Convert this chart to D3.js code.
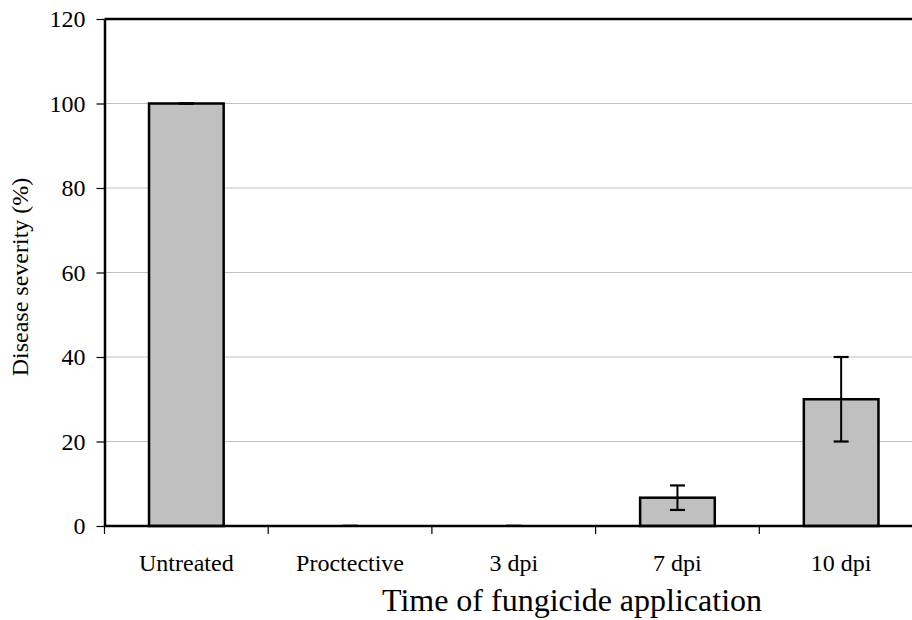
<!DOCTYPE html>
<html>
<head>
<meta charset="utf-8">
<script src="https://cdn.jsdelivr.net/npm/d3@7"></script>
<style>
  body { margin: 0; background: #fff; }
  svg { display: block; font-family: "Liberation Serif", "Times New Roman", serif; }
</style>
</head>
<body>
<div id="chart"></div>
<script>
// data
const categories = ["Untreated", "Proctective", "3 dpi", "7 dpi", "10 dpi"];
const severity = [100, 0, 0, 6.7, 30];
const errors = [0, 0, 0, 2.9, 10];
const yTicks = [0, 20, 40, 60, 80, 100, 120];

const W = 912, H = 620;
// plot box; right edge runs past the picture and gets clipped
const plot = { left: 104.5, top: 19, bottom: 526, right: 923 };

const svg = d3.select("#chart")
  .append("svg")
    .attr("width", W)
    .attr("height", H)
    .style("overflow", "hidden");

const x = d3.scaleBand()
  .domain(categories)
  .range([plot.left, plot.right])
  .paddingInner(0.544)
  .paddingOuter(0.272);

const y = d3.scaleLinear()
  .domain([0, 120])
  .range([plot.bottom, plot.top]);

// gridlines
svg.append("g")
  .selectAll("line")
  .data(yTicks.filter(d => d > 0 && d < 120))
  .join("line")
    .attr("x1", plot.left)
    .attr("x2", plot.right)
    .attr("y1", d => y(d))
    .attr("y2", d => y(d))
    .attr("stroke", "#c0c0c0")
    .attr("stroke-width", 1);

// plot area frame (top + right)
svg.append("path")
  .attr("d", `M${plot.left},${plot.top}H${plot.right}V${plot.bottom}`)
  .attr("fill", "none")
  .attr("stroke", "#000")
  .attr("stroke-width", 2.5);

// bars
svg.append("g")
  .selectAll("rect")
  .data(categories)
  .join("rect")
    .attr("x", d => x(d))
    .attr("y", (d, i) => y(severity[i]))
    .attr("width", x.bandwidth())
    .attr("height", (d, i) => y(0) - y(severity[i]))
    .attr("fill", "#c0c0c0")
    .attr("stroke", (d, i) => severity[i] > 0 ? "#000" : "none")
    .attr("stroke-width", 2.5);

// y axis
const yAxis = svg.append("g")
  .attr("transform", `translate(${plot.left},0)`)
  .call(d3.axisLeft(y).tickValues(yTicks).tickSize(8).tickPadding(11).tickSizeOuter(0));
yAxis.select(".domain").attr("stroke-width", 2.5);
yAxis.selectAll(".tick line").attr("stroke-width", 1.2);
yAxis.selectAll("text")
  .attr("font-size", 24)
  .attr("font-family", "Liberation Serif")
  .attr("fill", "#000");

// x axis: ticks at category boundaries
const xAxisG = svg.append("g");
xAxisG.append("line")
  .attr("x1", plot.left).attr("x2", plot.right)
  .attr("y1", plot.bottom).attr("y2", plot.bottom)
  .attr("stroke", "#000")
  .attr("stroke-width", 2.5);

const step = x.step();
xAxisG.selectAll(".bound")
  .data(categories)
  .join("line")
    .attr("class", "bound")
    .attr("x1", d => x(d) - x.paddingInner() * step / 2)
    .attr("x2", d => x(d) - x.paddingInner() * step / 2)
    .attr("y1", plot.bottom)
    .attr("y2", plot.bottom + 8)
    .attr("stroke", "#000")
    .attr("stroke-width", 1.2);

xAxisG.selectAll("text")
  .data(categories)
  .join("text")
    .attr("x", d => x(d) + x.bandwidth() / 2)
    .attr("y", 571)
    .attr("text-anchor", "middle")
    .attr("font-size", 24)
    .text(d => d);

// error bars (drawn last so the zero caps sit on the axis line)
const cap = 7.5;
const eb = svg.append("g")
  .selectAll("g")
  .data(categories)
  .join("g")
    .attr("transform", d => `translate(${x(d) + x.bandwidth() / 2},0)`);

eb.append("line")
  .attr("y1", (d, i) => y(severity[i] + errors[i]))
  .attr("y2", (d, i) => y(severity[i] - errors[i]))
  .attr("stroke", "#000")
  .attr("stroke-width", 2);

eb.selectAll(".cap")
  .data((d, i) => [severity[i] + errors[i], severity[i] - errors[i]])
  .join("line")
    .attr("class", "cap")
    .attr("x1", -cap)
    .attr("x2", cap)
    .attr("y1", d => d === 0 ? y(d) - 1.5 : y(d))
    .attr("y2", d => d === 0 ? y(d) - 1.5 : y(d))
    .attr("stroke", d => d === 0 ? "#808080" : "#000")
    .attr("stroke-width", d => d === 0 ? 1 : 2.2);

// axis titles
svg.append("text")
  .attr("x", 572)
  .attr("y", 611)
  .attr("text-anchor", "middle")
  .attr("font-size", 32)
  .text("Time of fungicide application");

svg.append("text")
  .attr("transform", "translate(28,277) rotate(-90)")
  .attr("text-anchor", "middle")
  .attr("font-size", 24)
  .text("Disease severity (%)");
</script>
</body>
</html>
